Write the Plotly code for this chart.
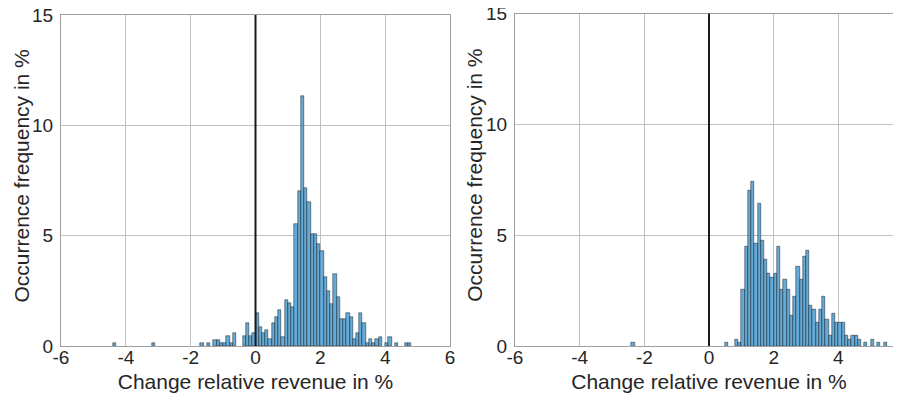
import plotly.graph_objects as go

# ---------------- data ----------------
bin_width = 0.1

left_bin_lo = [-4.4, -3.2, -1.7, -1.5, -1.3, -1.2, -1.1, -1.0, -0.9, -0.8, -0.7,
               -0.4, -0.3, -0.2, -0.1, 0.0, 0.1, 0.2, 0.3, 0.4, 0.5, 0.6, 0.7,
               0.8, 0.9, 1.0, 1.1, 1.2, 1.3, 1.4, 1.5, 1.6, 1.7, 1.8, 1.9, 2.0,
               2.1, 2.2, 2.3, 2.4, 2.5, 2.6, 2.7, 2.8, 2.9, 3.0, 3.1, 3.2, 3.3,
               3.4, 3.5, 3.6, 3.7, 3.8, 4.0, 4.1, 4.3, 4.6, 4.7]
left_freq = [0.15, 0.15, 0.15, 0.15, 0.29, 0.29, 0.15, 0.15, 0.44, 0.15, 0.60,
             0.44, 1.03, 0.44, 0.60, 1.48, 0.88, 0.57, 0.72, 0.30, 1.03, 1.33, 1.63,
             0.42, 2.08, 1.93, 1.78, 5.53, 7.02, 11.34, 7.14, 6.54, 5.07, 5.07, 4.62, 4.32,
             3.11, 2.51, 1.90, 3.26, 2.21, 1.21, 1.21, 1.48, 1.33, 0.30, 0.60, 1.48, 1.03,
             0.15, 0.30, 0.15, 0.30, 0.42, 0.15, 0.42, 0.15, 0.15, 0.15]

right_bin_lo = [-2.4, 0.5, 0.8, 0.9, 1.0, 1.1, 1.2, 1.3, 1.4, 1.5, 1.6, 1.7, 1.8,
                1.9, 2.0, 2.1, 2.2, 2.3, 2.4, 2.5, 2.6, 2.7, 2.8, 2.9, 3.0, 3.1,
                3.2, 3.3, 3.4, 3.5, 3.6, 3.7, 3.8, 3.9, 4.0, 4.1, 4.2, 4.3, 4.4,
                4.5, 4.6, 4.8, 5.0, 5.2, 5.4, 5.8]
right_freq = [0.15, 0.15, 0.31, 0.15, 2.53, 4.48, 7.00, 7.42, 4.63, 6.43, 4.78, 3.88, 3.28,
              3.10, 3.28, 4.48, 2.53, 3.01, 2.53, 1.36, 2.23, 3.58, 3.01, 4.03, 4.33, 1.81,
              1.63, 1.06, 1.63, 2.23, 1.21, 0.46, 1.48, 1.06, 1.06, 1.06, 0.46, 0.31, 0.46,
              0.46, 0.31, 0.15, 0.31, 0.15, 0.15, 0.15]

x_tick_vals = [-6, -4, -2, 0, 2, 4, 6]
x_tick_labels = ["-6", "-4", "-2", "0", "2", "4", "6"]
y_tick_vals = [0, 5, 10, 15]
y_tick_labels = ["0", "5", "10", "15"]
zero_line_x = 0

x_title = "Change relative revenue in %"
y_title = "Occurrence frequency in %"

# ---------------- styling ----------------
FONT = "Liberation Sans, Arial, sans-serif"
TXT = "#262626"
BAR_FILL = "#66aad7"
BAR_EDGE = "rgba(0,0,0,0.85)"
AX_LINE = "#a0a0a0"
GRID = "#c0c0c0"

W, H = 901, 406

fig = go.Figure()

fig.add_trace(go.Bar(x=left_bin_lo, y=left_freq, width=bin_width, offset=0,
                     marker=dict(color=BAR_FILL, line=dict(color=BAR_EDGE, width=0.5)),
                     xaxis="x", yaxis="y", showlegend=False))
fig.add_trace(go.Bar(x=right_bin_lo, y=right_freq, width=bin_width, offset=0,
                     marker=dict(color=BAR_FILL, line=dict(color=BAR_EDGE, width=0.5)),
                     xaxis="x2", yaxis="y2", showlegend=False))

def xaxis(domain, anchor):
    return dict(domain=domain, anchor=anchor, range=[-6, 6],
                tickvals=x_tick_vals, ticktext=x_tick_labels,
                showgrid=True, gridcolor=GRID, gridwidth=1,
                showline=True, linecolor=AX_LINE, linewidth=1, mirror=True,
                zeroline=False, ticks="", ticklabelstandoff=-6,
                ticklabeloverflow="allow",
                tickfont=dict(family=FONT, size=19, color=TXT),
                title=dict(text=x_title, font=dict(family=FONT, size=21, color=TXT), standoff=7),
                automargin=False, fixedrange=True)

def yaxis(domain, anchor):
    return dict(domain=domain, anchor=anchor, range=[0, 15],
                tickvals=y_tick_vals, ticktext=y_tick_labels,
                showgrid=True, gridcolor=GRID, gridwidth=1,
                showline=True, linecolor=AX_LINE, linewidth=1, mirror=True,
                zeroline=False, ticks="", ticklabelstandoff=3,
                ticklabeloverflow="allow",
                tickfont=dict(family=FONT, size=19, color=TXT),
                automargin=False, fixedrange=True)

# plot-area pixel boxes in figure coordinates (page shows the figure offset by 8 px)
L_X0, L_X1, L_Y0, L_Y1 = 53, 442, 7, 338
R_X0, R_X1, R_Y0, R_Y1 = 507, 895, 5.5, 338

fig.update_layout(
    width=W, height=H,
    margin=dict(l=0, r=0, t=0, b=0),
    paper_bgcolor="white", plot_bgcolor="white",
    barmode="overlay", bargap=0,
    xaxis=xaxis([L_X0 / W, L_X1 / W], "y"),
    yaxis=yaxis([1 - L_Y1 / H, 1 - L_Y0 / H], "x"),
    xaxis2=xaxis([R_X0 / W, R_X1 / W], "y2"),
    yaxis2=yaxis([1 - R_Y1 / H, 1 - R_Y0 / H], "x2"),
)

# y-axis titles
for xpx, y0, y1 in ((13, L_Y0, L_Y1), (467, R_Y0, R_Y1)):
    fig.add_annotation(text=y_title, xref="paper", yref="paper",
                       x=xpx / W, y=1 - (y0 + y1) / 2 / H + 4 / H,
                       xanchor="center", yanchor="middle", textangle=-90,
                       showarrow=False, font=dict(family=FONT, size=21, color=TXT))

# black vertical line at zero change
for xr, yr in (("x", "y domain"), ("x2", "y2 domain")):
    fig.add_shape(type="line", xref=xr, yref=yr, x0=zero_line_x, x1=zero_line_x,
                  y0=0, y1=1, line=dict(color="#1a1a1a", width=2), layer="above")

fig.write_html("out.html")
